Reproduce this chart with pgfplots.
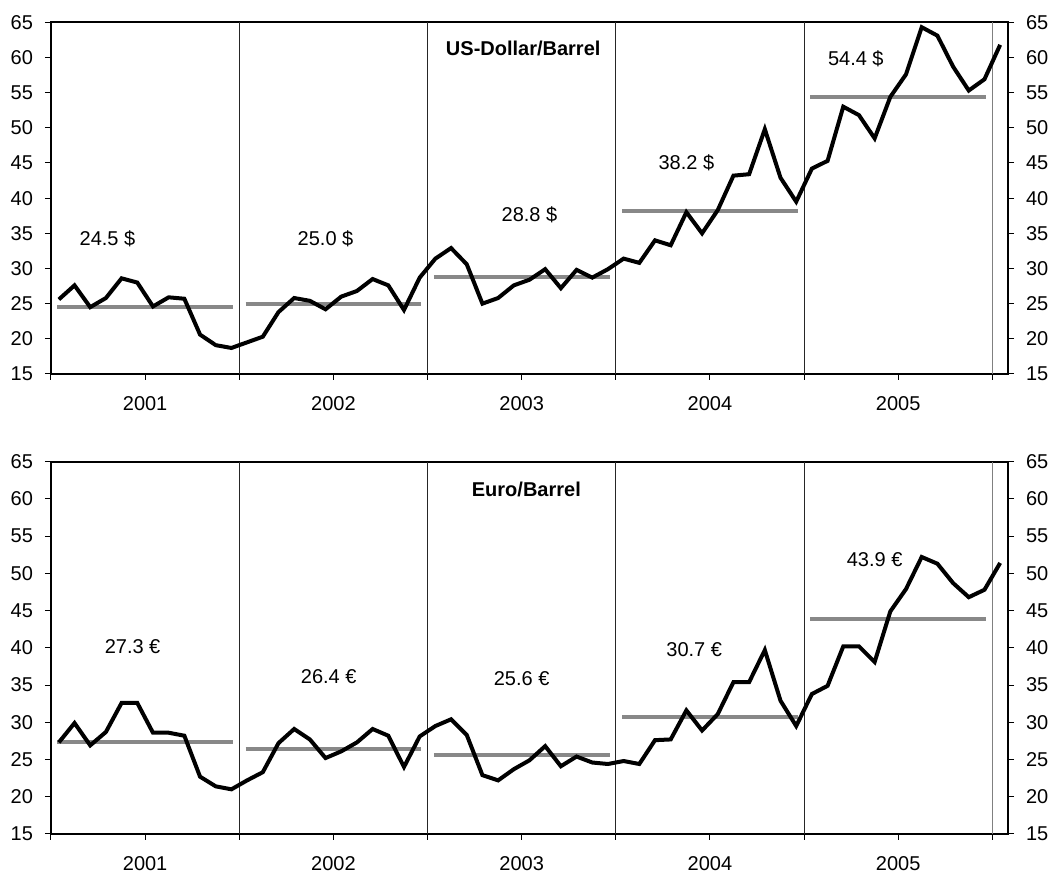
\documentclass[border=0pt]{standalone}
\usepackage{fontspec}
\setmainfont{Liberation Sans}
\usepackage{pgfplots}
\pgfplotsset{compat=1.18}
\usepackage{pgfplotstable}

\pgfplotstableread{
x usd eur
0.5 25.6 27.3
1.5 27.6 29.9
2.5 24.5 26.9
3.5 25.8 28.7
4.5 28.6 32.6
5.5 28.0 32.6
6.5 24.6 28.6
7.5 25.9 28.6
8.5 25.7 28.2
9.5 20.6 22.7
10.5 19.1 21.4
11.5 18.7 21.0
12.5 19.5 22.2
13.5 20.3 23.3
14.5 23.8 27.2
15.5 25.8 29.1
16.5 25.4 27.7
17.5 24.2 25.2
18.5 26.0 26.1
19.5 26.8 27.3
20.5 28.5 29.1
21.5 27.6 28.2
22.5 24.1 24.0
23.5 28.7 28.1
24.5 31.4 29.5
25.5 32.9 30.4
26.5 30.6 28.3
27.5 25.0 22.9
28.5 25.8 22.2
29.5 27.6 23.7
30.5 28.4 24.9
31.5 29.9 26.8
32.5 27.2 24.1
33.5 29.8 25.4
34.5 28.7 24.6
35.5 29.9 24.4
36.5 31.4 24.8
37.5 30.8 24.4
38.5 34.0 27.6
39.5 33.3 27.7
40.5 38.0 31.6
41.5 35.0 28.9
42.5 38.3 31.1
43.5 43.2 35.4
44.5 43.4 35.4
45.5 49.8 39.7
46.5 42.9 32.9
47.5 39.5 29.5
48.5 44.2 33.8
49.5 45.3 34.9
50.5 53.0 40.2
51.5 51.8 40.2
52.5 48.5 38.1
53.5 54.4 44.9
54.5 57.6 47.9
55.5 64.3 52.2
56.5 63.1 51.3
57.5 58.7 48.7
58.5 55.3 46.8
59.5 56.9 47.8
60.5 61.8 51.4
}\monthly

\definecolor{avggray}{RGB}{136,136,136}

\tikzset{
  lab/.style={font=\fontsize{10}{12}\selectfont, inner sep=0pt, anchor=center},
  labb/.style={font=\fontsize{10}{12}\selectfont\bfseries, inner sep=0pt, anchor=center},
}

\pgfplotsset{
  panel/.style={
    scale only axis, width=478.5pt,
    xmin=0, xmax=61, ymin=15, ymax=65,
    xtick={0,6,...,60},
    xticklabels={,2001,,2002,,2003,,2004,,2005,},
    ytick={15,20,...,65},
    tick align=outside, xtick pos=bottom, ytick pos=left,
    major tick length=3pt,
    axis line style={line width=1pt},
    tick style={black, line width=0.5pt},
    ticklabel style={font=\fontsize{10}{12}\selectfont},
    xticklabel style={yshift=-4.5pt},
    yticklabel style={xshift=-2.5pt},
    /pgf/number format/assume math mode=true,
    clip=false,
  },
  rightax/.style={
    scale only axis, width=478.5pt,
    xmin=0, xmax=61, ymin=15, ymax=65,
    axis x line=none, axis y line*=right,
    ytick={15,20,...,65},
    tick align=outside,
    major tick length=3pt,
    axis line style={line width=1pt},
    tick style={black, line width=0.5pt},
    ticklabel style={font=\fontsize{10}{12}\selectfont},
    yticklabel style={xshift=2.5pt},
    /pgf/number format/assume math mode=true,
  },
  sep/.style={black!85, line width=0.5pt, forget plot},
  avg/.style={avggray, line width=2pt, forget plot},
  main/.style={black, line width=2pt, mark=none},
}

\begin{document}
\begin{tikzpicture}
\path[use as bounding box] (0,0) rectangle (525.5pt,436.5pt);

% ---------------- top panel ----------------
\begin{axis}[panel, height=175.85pt, at={(25.5pt,249.5pt)}, anchor=south west]
  \addplot[sep] coordinates {(12,15) (12,65)};
  \addplot[sep] coordinates {(24,15) (24,65)};
  \addplot[sep] coordinates {(36,15) (36,65)};
  \addplot[sep] coordinates {(48,15) (48,65)};
  \addplot[sep, gray] coordinates {(60,15) (60,65)};
  \addplot[avg] coordinates {(0.4,24.5) (11.6,24.5)};
  \addplot[avg] coordinates {(12.4,25.0) (23.6,25.0)};
  \addplot[avg] coordinates {(24.4,28.8) (35.6,28.8)};
  \addplot[avg] coordinates {(36.4,38.2) (47.6,38.2)};
  \addplot[avg] coordinates {(48.4,54.4) (59.6,54.4)};
  \addplot[main] table[x=x, y=usd] {\monthly};
  \node[lab] at (axis cs:3.6,34.15) {24.5 \$};
  \node[lab] at (axis cs:17.5,34.15) {25.0 \$};
  \node[lab] at (axis cs:30.5,37.7) {28.8 \$};
  \node[lab] at (axis cs:40.5,45.0) {38.2 \$};
  \node[lab] at (axis cs:51.3,59.8) {54.4 \$};
  \node[labb] at (axis cs:30.1,61.3) {US-Dollar/Barrel};
\end{axis}
\begin{axis}[rightax, height=175.85pt, at={(25.5pt,249.5pt)}, anchor=south west]
  \addplot[draw=none] coordinates {(0,15)};
\end{axis}

% ---------------- bottom panel ----------------
\begin{axis}[panel, height=186.15pt, at={(25.5pt,19.5pt)}, anchor=south west]
  \addplot[sep] coordinates {(12,15) (12,65)};
  \addplot[sep] coordinates {(24,15) (24,65)};
  \addplot[sep] coordinates {(36,15) (36,65)};
  \addplot[sep] coordinates {(48,15) (48,65)};
  \addplot[sep, gray] coordinates {(60,15) (60,65)};
  \addplot[avg] coordinates {(0.4,27.3) (11.6,27.3)};
  \addplot[avg] coordinates {(12.4,26.4) (23.6,26.4)};
  \addplot[avg] coordinates {(24.4,25.6) (35.6,25.6)};
  \addplot[avg] coordinates {(36.4,30.7) (47.6,30.7)};
  \addplot[avg] coordinates {(48.4,43.9) (59.6,43.9)};
  \addplot[main] table[x=x, y=eur] {\monthly};
  \node[lab] at (axis cs:5.2,40.1) {27.3 €};
  \node[lab] at (axis cs:17.7,36.1) {26.4 €};
  \node[lab] at (axis cs:30.0,35.9) {25.6 €};
  \node[lab] at (axis cs:41.0,39.8) {30.7 €};
  \node[lab] at (axis cs:52.5,51.9) {43.9 €};
  \node[labb] at (axis cs:30.3,61.3) {Euro/Barrel};
\end{axis}
\begin{axis}[rightax, height=186.15pt, at={(25.5pt,19.5pt)}, anchor=south west]
  \addplot[draw=none] coordinates {(0,15)};
\end{axis}
\end{tikzpicture}
\end{document}
